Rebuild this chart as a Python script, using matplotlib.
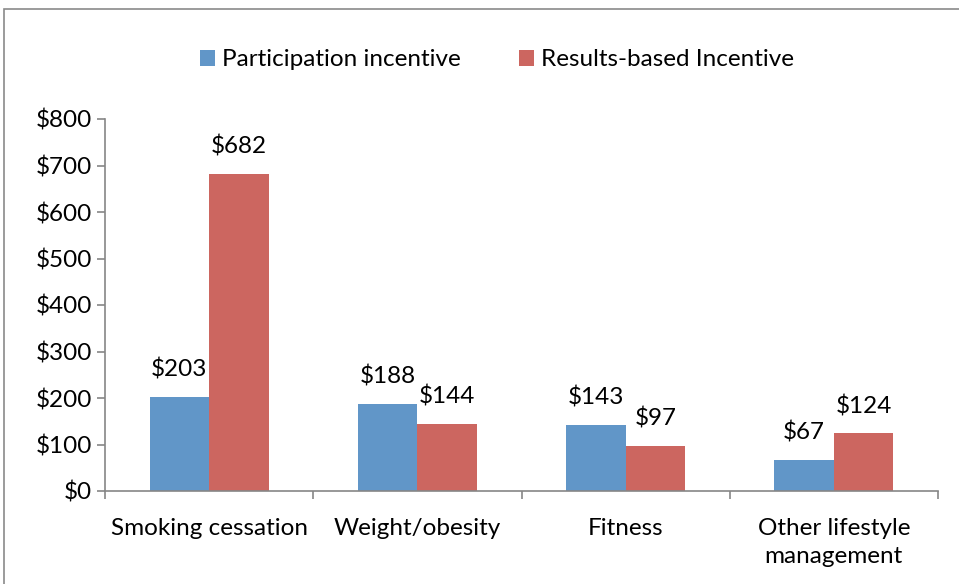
import matplotlib.pyplot as plt
import numpy as np
from matplotlib.patches import Rectangle
from matplotlib.ticker import FuncFormatter, MultipleLocator

plt.rcParams["font.family"] = ["Lato", "DejaVu Sans"]

categories = ["Smoking cessation", "Weight/obesity", "Fitness",
              "Other lifestyle\nmanagement"]
participation = [203, 188, 143, 67]
results_based = [682, 144, 97, 124]
series_names = ["Participation incentive", "Results-based Incentive"]

blue = "#6196C8"
red = "#CC6660"
axis_grey = "#868686"
fs = 17.5

fig = plt.figure(figsize=(9.59, 5.84), dpi=100)
ax = fig.add_axes([105 / 959, 93 / 584, 833 / 959, 372 / 584])

# outer chart border (cut off at right and bottom like the original)
fig.patches.append(Rectangle((4 / 959, -0.1), 1.2, (575 / 584) + 0.1,
                             transform=fig.transFigure, fill=False,
                             edgecolor="#8a8a8a", linewidth=1.2))

x = np.arange(len(categories))
w = 0.286
b1 = ax.bar(x - w / 2, participation, w, color=blue, label=series_names[0])
b2 = ax.bar(x + w / 2, results_based, w, color=red, label=series_names[1])

for bars, vals in [(b1, participation), (b2, results_based)]:
    for rect, v in zip(bars, vals):
        ax.annotate(f"${v}", (rect.get_x() + rect.get_width() / 2, v),
                    xytext=(0, 19.5), textcoords="offset points",
                    ha="center", va="center", fontsize=fs)

# 轴设置
ax.set_xlim(-0.5, len(categories) - 0.5)
ax.set_ylim(0, 800)
ax.yaxis.set_major_locator(MultipleLocator(100))
ax.yaxis.set_major_formatter(FuncFormatter(lambda v, p: f"${v:.0f}"))
ax.set_xticks(x, categories)
for lab in ax.get_xticklabels():
    lab.set_linespacing(1.42)
ax.set_xticks(np.arange(len(categories) + 1) - 0.5, minor=True)
ax.tick_params(axis="x", which="major", length=0, pad=19.5, labelsize=fs)
ax.tick_params(axis="x", which="minor", length=6, color=axis_grey, width=1.2)
ax.tick_params(axis="y", length=6, color=axis_grey, width=1.2,
               labelsize=fs, pad=3.5)
for s in ["top", "right"]:
    ax.spines[s].set_visible(False)
for s in ["left", "bottom"]:
    ax.spines[s].set_color(axis_grey)
    ax.spines[s].set_linewidth(1.2)

fig.legend(handles=[b1, b2], loc="center", bbox_to_anchor=(497 / 959, 1 - 60 / 584),
           ncol=2, frameon=False, fontsize=fs, handlelength=0.6,
           handleheight=0.6, handletextpad=0.3, columnspacing=2.4)

fig.savefig("out.png", dpi=100)
